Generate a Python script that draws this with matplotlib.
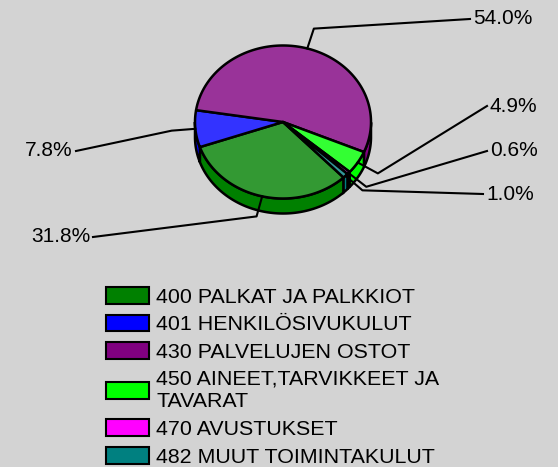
import numpy as np
import matplotlib.pyplot as plt
from matplotlib.patches import Polygon, Patch

plt.rcParams['font.family'] = ['Liberation Sans', 'DejaVu Sans']

# data
accounts = ["400 PALKAT JA PALKKIOT", "401 HENKILÖSIVUKULUT", "430 PALVELUJEN OSTOT",
            "450 AINEET,TARVIKKEET JA\nTAVARAT", "470 AVUSTUKSET", "482 MUUT TOIMINTAKULUT"]
shares = [31.8, 7.8, 54.0, 4.9, 0.6, 1.0]
pct_labels = ["31.8%", "7.8%", "54.0%", "4.9%", "0.6%", "1.0%"]
colors = ["#008000", "#0000ff", "#800080", "#00ff00", "#ff00ff", "#008080"]

# layout (pixel space)
W, H = 558, 467
CX, CY, RX, RY, DEPTH = 283, 122, 88, 76.5, 15
START = 313.5  # degrees, slices go clockwise
ELBOW = 1.27
# where each leader line ends (text sits just beyond it)
label_ends = [(93, 237), (76, 151), (470, 19), (487, 106), (487, 151), (483, 194)]


def lighten(c, f=0.2):
    rgb = np.array([int(c[i:i + 2], 16) for i in (1, 3, 5)]) / 255.0
    return tuple(rgb + (1 - rgb) * f)


def pt(a, r=1.0, dz=0.0):
    t = np.radians(a)
    return CX + r * RX * np.cos(t), CY - r * RY * np.sin(t) + dz


fig = plt.figure(figsize=(W / 100, H / 100), dpi=100)
fig.patch.set_facecolor("#d3d3d3")
ax = fig.add_axes([0, 0, 1, 1])
ax.set_xlim(0, W)
ax.set_ylim(H, 0)
ax.axis("off")

spans = np.array(shares) / sum(shares) * 360
starts = START - np.concatenate([[0], np.cumsum(spans)[:-1]])
ends = starts - spans

# side walls (front half only)
for s, e, c in zip(starts, ends, colors):
    a = np.linspace(e, s, 400)
    a = a[np.sin(np.radians(a)) <= 1e-9]
    if len(a) < 2:
        continue
    top = np.array([pt(v) for v in a])
    bot = np.array([pt(v, dz=DEPTH) for v in a[::-1]])
    ax.add_patch(Polygon(np.vstack([top, bot]), closed=True, facecolor=c,
                         edgecolor="black", linewidth=1.8, zorder=2))

# top face
for s, e, c in zip(starts, ends, colors):
    a = np.linspace(s, e, 200)
    arc = np.array([pt(v) for v in a])
    ax.add_patch(Polygon(np.vstack([[CX, CY], arc]), closed=True, facecolor=lighten(c),
                         edgecolor="black", linewidth=1.8, joinstyle="round", zorder=3))

# leader lines and percentages
for s, e, txt, end in zip(starts, ends, pct_labels, label_ends):
    m = (s + e) / 2
    x0, y0 = pt(m)
    x1, y1 = pt(m, ELBOW)
    ax.plot([x0, x1, end[0]], [y0, y1, end[1]], color="black", linewidth=1.5, zorder=4)
    right = end[0] > CX
    ax.text(end[0] + (3 if right else -3), end[1], txt, fontsize=15,
            ha="left" if right else "right", va="center", zorder=5)

handles = [Patch(facecolor=c, edgecolor="black", linewidth=1.5) for c in colors]
leg = fig.legend(handles, accounts, loc="upper left", bbox_to_anchor=(106 / W, 1 - 287 / H),
                 frameon=False, fontsize=15.4, handlelength=2.0, handleheight=0.84,
                 handletextpad=0.35, labelspacing=0.36, borderpad=0, borderaxespad=0)
for t in leg.get_texts():
    t.set_linespacing(1.25)

fig.savefig("out.png", dpi=100, facecolor=fig.get_facecolor())
